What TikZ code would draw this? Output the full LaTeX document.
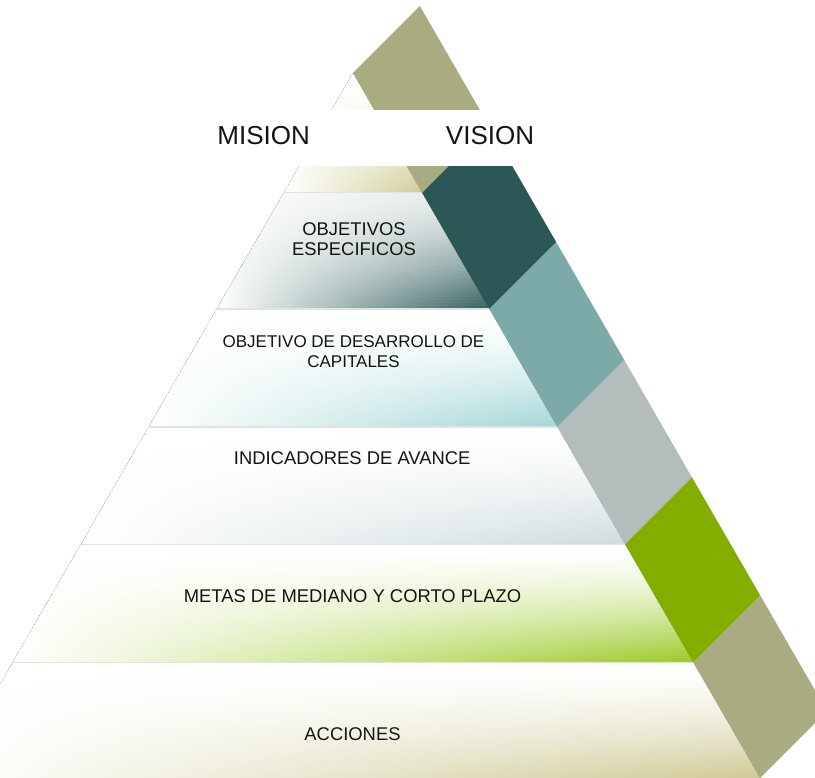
\documentclass[tikz,border=0pt]{standalone}
\usepackage{fontspec}
\setmainfont{Liberation Sans}
\definecolor{bolive}{RGB}{170,171,128}
\definecolor{bdark}{RGB}{43,87,86}
\definecolor{bteal}{RGB}{123,170,168}
\definecolor{bgray}{RGB}{180,188,188}
\definecolor{bgreen}{RGB}{131,174,0}
\definecolor{ctop}{RGB}{208,206,150}
\definecolor{cobj}{RGB}{52,96,94}
\definecolor{cobjbase}{RGB}{226,231,231}
\definecolor{ccap}{RGB}{162,213,213}
\definecolor{cind}{RGB}{206,219,221}
\definecolor{cmet}{RGB}{155,202,40}
\definecolor{cacc}{RGB}{206,202,150}
\definecolor{sepline}{RGB}{224,228,224}
\definecolor{txt}{RGB}{20,20,20}
% layer with a two-way gradient built from thin horizontal strips
% #1 clip path, #2 top y, #3 bottom y, #4 left x, #5 right x, #6 colour, #7 base colour
\newcommand\pyrlayer[7]{%
  \begin{scope}
  \clip #1;
  \foreach \kk in {0,...,39}{%
    \pgfmathsetmacro\lyA{#2+(#3-#2)*\kk/40}
    \pgfmathsetmacro\lyB{#2+(#3-#2)*(\kk+1)/40+0.7}
    \pgfmathtruncatemacro\lyW{100*((\kk+0.5)/40)^1.5}
    \colorlet{rcol}{#6!\lyW!#7}
    \fill[left color=white, middle color=rcol!58!white, right color=rcol] (#4,\lyA) rectangle (#5,\lyB);
  }
  \end{scope}}
\tikzset{
  big/.style={font=\fontsize{26}{30}\selectfont, anchor=base, inner sep=0pt, text=txt},
  lbl/.style={font=\fontsize{18.4}{20}\selectfont, align=center, anchor=base, inner sep=0pt, text=txt},
  sep/.style={draw=sepline, line width=1.2pt}
}
\begin{document}
\begin{tikzpicture}[x=1pt,y=-1pt]
\useasboundingbox (0,0) rectangle (815,778);
\clip (0,0) rectangle (815,778);
\fill[white] (0,0) rectangle (815,778);
% ---- pyramid layers ----
\pyrlayer{(353,73) -- (422.1,192.7) -- (283.9,192.7) -- cycle}{73}{192.7}{283.9}{422.1}{ctop}{white}
\pyrlayer{(283.9,192.7) -- (422.1,192.7) -- (489.3,309) -- (216.7,309) -- cycle}{192.7}{309}{216.7}{489.3}{cobj}{cobjbase}
\pyrlayer{(216.7,309) -- (489.3,309) -- (557.4,427) -- (148.6,427) -- cycle}{309}{427}{148.6}{557.4}{ccap}{white}
\pyrlayer{(148.6,427) -- (557.4,427) -- (625.1,544.3) -- (80.9,544.3) -- cycle}{427}{544.3}{80.9}{625.1}{cind}{white}
\pyrlayer{(80.9,544.3) -- (625.1,544.3) -- (693.3,662.3) -- (12.7,662.3) -- cycle}{544.3}{662.3}{12.7}{693.3}{cmet}{white}
\pyrlayer{(12.7,662.3) -- (693.3,662.3) -- (760.1,778) -- (-54.1,778) -- cycle}{662.3}{778}{-54.1}{760.1}{cacc}{white}
% separator lines
\draw[sep] (283.9,192.7) -- (422.1,192.7);
\draw[sep] (216.7,309) -- (489.3,309);
\draw[sep] (148.6,427) -- (557.4,427);
\draw[sep] (80.9,544.3) -- (625.1,544.3);
\draw[sep] (12.7,662.3) -- (693.3,662.3);
% ---- diagonal band ----
\fill[bolive] (353,73) -- (419.9,6.1) -- (489.0,125.8) -- (422.1,192.7) -- cycle;
\fill[bdark] (422.1,192.7) -- (489.0,125.8) -- (556.2,242.1) -- (489.3,309) -- cycle;
\fill[bteal] (489.3,309) -- (556.2,242.1) -- (624.3,360.1) -- (557.4,427) -- cycle;
\fill[bgray] (557.4,427) -- (624.3,360.1) -- (692.0,477.4) -- (625.1,544.3) -- cycle;
\fill[bgreen] (625.1,544.3) -- (692.0,477.4) -- (760.2,595.4) -- (693.3,662.3) -- cycle;
\fill[bolive] (693.3,662.3) -- (760.2,595.4) -- (827.0,711.1) -- (760.1,778) -- cycle;
% ---- white gap for mision / vision ----
\fill[white] (0,110) rectangle (815,165.7);
% ---- texts ----
\node[big] (mision) at (263.7,144.3) {MISION};
\node[big] (vision) at (490,144.3) {VISION};
\node[lbl] (obj) at (354,256) {OBJETIVOS\\ESPECIFICOS};
\node[lbl, font=\fontsize{17}{20}\selectfont] (cap) at (353.5,367.7) {OBJETIVO DE DESARROLLO DE\\CAPITALES};
\node[lbl] (ind) at (352.2,464.3) {INDICADORES DE AVANCE};
\node[lbl] (met) at (352.5,602.7) {METAS DE MEDIANO Y CORTO PLAZO};
\node[lbl] (acc) at (352.5,740.7) {ACCIONES};
\end{tikzpicture}
\end{document}
